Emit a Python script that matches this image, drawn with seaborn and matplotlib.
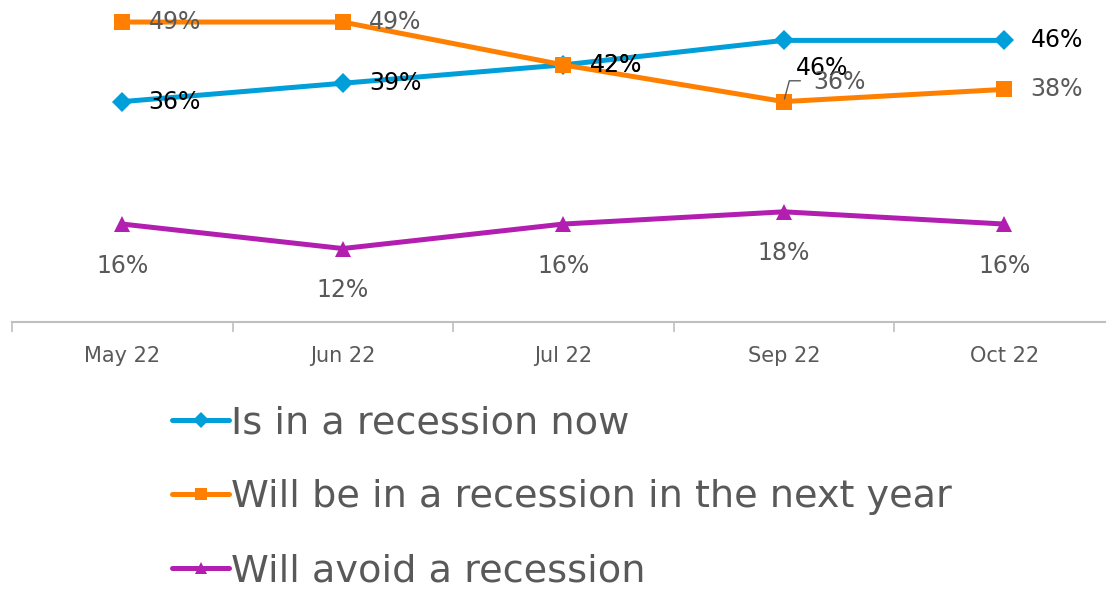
import pandas as pd
import matplotlib.pyplot as plt
import seaborn as sns
from matplotlib.lines import Line2D

# Datos
months = ["May 22", "Jun 22", "Jul 22", "Sep 22", "Oct 22"]
recession_now = [36, 39, 42, 46, 46]
recession_next_year = [49, 49, 42, 36, 38]
avoid_recession = [16, 12, 16, 18, 16]

series_names = ["Is in a recession now",
                "Will be in a recession in the next year",
                "Will avoid a recession"]
colors = ["#009FDA", "#FF8000", "#B21EAF"]
markers = ["D", "s", "^"]

sns.set_theme(style="white")
plt.rcParams['font.family'] = ['DejaVu Sans']

df = pd.DataFrame({
    "month": months * 3,
    "x": list(range(len(months))) * 3,
    "value": recession_now + recession_next_year + avoid_recession,
    "series": [series_names[0]] * 5 + [series_names[1]] * 5 + [series_names[2]] * 5,
})

fig = plt.figure(figsize=(11.06, 5.9), dpi=100)
ax = fig.add_axes([12 / 1106, 268 / 590, 1102.5 / 1106, 322 / 590])

sns.lineplot(data=df, x="x", y="value", hue="series", style="series",
             hue_order=series_names, style_order=series_names,
             palette=colors, markers=markers, dashes=False,
             linewidth=3.6, markersize=11, markeredgewidth=0,
             legend=False, ax=ax)
for ln in ax.lines:
    ln.set_clip_on(False)
ax.lines[0].set_markersize(10)

ax.set_xlim(-0.5, 4.5)
ax.set_ylim(0, 52.6)
ax.set_xticks(range(len(months)))
ax.set_xticklabels(months, fontsize=15, color="#595959")
ax.set_xticks([i - 0.5 for i in range(len(months) + 1)], minor=True)
ax.tick_params(axis="x", which="major", length=0, pad=17)
ax.tick_params(axis="x", which="minor", length=7, width=1.2, color="#BFBFBF",
               direction="out", bottom=True)
ax.set_yticks([])
ax.set_xlabel("")
ax.set_ylabel("")
for side in ["top", "right", "left"]:
    ax.spines[side].set_visible(False)
ax.spines["bottom"].set_color("#BFBFBF")
ax.spines["bottom"].set_linewidth(1.5)

gray = "#595959"
fs = 17
# etiquetas de datos
for i, v in enumerate(recession_next_year):
    if i == 3:
        continue
    ax.annotate(f"{v}%", (i, v), xytext=(19, 0), textcoords="offset points",
                ha="left", va="center", fontsize=fs, color=gray)
for i, v in enumerate(recession_now):
    if i == 3:
        ax.annotate(f"{v}%", (i, v), xytext=(9, -20), textcoords="offset points",
                    ha="left", va="center", fontsize=fs, color="black")
    else:
        ax.annotate(f"{v}%", (i, v), xytext=(19, 0), textcoords="offset points",
                    ha="left", va="center", fontsize=fs, color="black")
# Sep 22: etiqueta con línea guía
ax.annotate(f"{recession_next_year[3]}%", (3, recession_next_year[3]),
            xytext=(21, 14), textcoords="offset points",
            ha="left", va="center", fontsize=fs, color=gray)
ax.annotate("", (3, recession_next_year[3]), xytext=(14, 15),
            textcoords="offset points",
            arrowprops=dict(arrowstyle="-", color=gray, lw=1,
                            connectionstyle="angle,angleA=0,angleB=75,rad=0"))
for i, v in enumerate(avoid_recession):
    ax.annotate(f"{v}%", (i, v), xytext=(0, -30), textcoords="offset points",
                ha="center", va="center", fontsize=fs, color=gray)

handles = [Line2D([0], [0], color=c, marker=m, lw=3.6, markersize=8, markeredgewidth=0)
           for c, m in zip(colors, markers)]
fig.legend(handles, series_names, loc="upper left", bbox_to_anchor=(172 / 1106, 1 - 405 / 590),
           frameon=False, fontsize=27.5, labelcolor=gray, handlelength=1.5,
           handletextpad=0.05, labelspacing=1.0, borderpad=0, borderaxespad=0)

fig.savefig("out.png", dpi=100)
